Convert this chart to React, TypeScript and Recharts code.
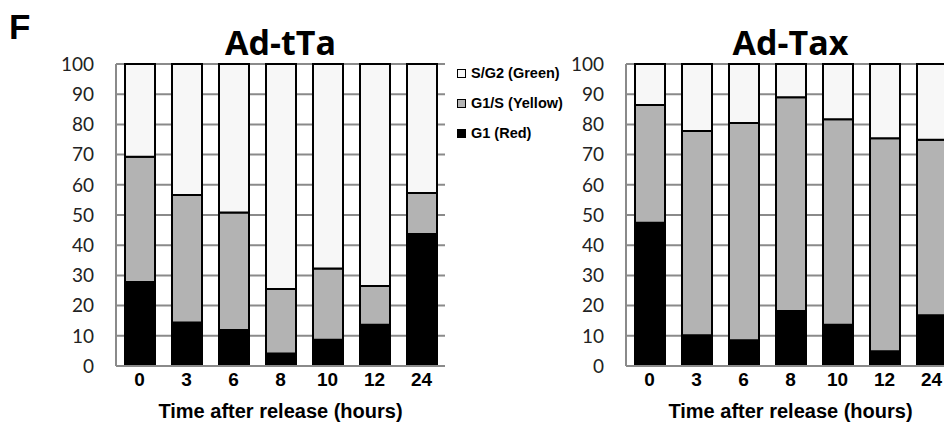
import { Bar, BarChart, CartesianGrid, XAxis, YAxis } from "recharts";

const hours = ["0", "3", "6", "8", "10", "12", "24"];
const yTicks = [0, 10, 20, 30, 40, 50, 60, 70, 80, 90, 100];

// Ad-tTa (%)
const tTaG1 = [27.8, 14.4, 11.9, 4.1, 8.7, 13.7, 43.7];
const tTaG1S = [41.5, 42.2, 38.9, 21.4, 23.6, 12.8, 13.6];
const tTaSG2 = [30.7, 43.4, 49.2, 74.5, 67.7, 73.5, 42.7];

// Ad-Tax (%)
const taxG1 = [47.4, 10.2, 8.5, 18.2, 13.7, 4.9, 16.8];
const taxG1S = [39.0, 67.6, 72.0, 70.8, 68.0, 70.5, 58.1];
const taxSG2 = [13.6, 22.2, 19.5, 11.0, 18.3, 24.6, 25.1];

const series = [
  { key: "g1", name: "G1 (Red)", color: "#000000" },
  { key: "g1s", name: "G1/S (Yellow)", color: "#b3b3b3" },
  { key: "sg2", name: "S/G2 (Green)", color: "#f7f7f7" },
];

const build = (g1: number[], g1s: number[], sg2: number[]) =>
  hours.map((h, i) => ({ h, g1: g1[i], g1s: g1s[i], sg2: sg2[i] }));

type PanelProps = {
  title: string;
  data: { h: string; g1: number; g1s: number; sg2: number }[];
  left: number;
};

const W = 470;
const H = 415;
const M = { top: 56, right: 33, bottom: 5, left: 48 };
const arial = "'Liberation Sans', Arial, sans-serif";

function Panel({ title, data, left }: PanelProps) {
  return (
    <div style={{ position: "absolute", left, top: 0, width: W, height: H }}>
      <div
        style={{
          position: "absolute",
          left: M.left + 60,
          width: W - M.left - 60 - M.right,
          top: 12,
          textAlign: "center",
          fontFamily: "'Open Sans', sans-serif",
          fontWeight: 700,
          fontSize: 34,
          lineHeight: "44px",
          color: "#000",
        }}
      >
        {title}
      </div>
      <BarChart width={W} height={H} data={data} margin={M} barSize={30}>
        <CartesianGrid vertical={false} stroke="#8a8a8a" strokeWidth={2} />
        <XAxis
          dataKey="h"
          height={52}
          tickSize={0}
          tickMargin={7}
          axisLine={{ stroke: "#8a8a8a", strokeWidth: 2 }}
          tick={{ fill: "#000", fontSize: 19, fontWeight: 700, fontFamily: arial }}
          label={{
            value: "Time after release (hours)",
            position: "insideBottom",
            offset: 0,
            fill: "#000",
            fontSize: 20,
            fontWeight: 700,
            fontFamily: arial,
          }}
        />
        <YAxis
          width={60}
          domain={[0, 100]}
          ticks={yTicks}
          interval={0}
          tickSize={0}
          tickMargin={22}
          axisLine={{ stroke: "#8a8a8a", strokeWidth: 2 }}
          tick={{ fill: "#222", fontSize: 19, fontFamily: "Lato, sans-serif" }}
        />
        {series.map((s) => (
          <Bar
            key={s.key}
            dataKey={s.key}
            name={s.name}
            stackId="a"
            fill={s.color}
            stroke="#000"
            strokeWidth={2}
            isAnimationActive={false}
          />
        ))}
      </BarChart>
    </div>
  );
}

function LegendBox() {
  const items = [...series].reverse();
  return (
    <div style={{ position: "absolute", left: 449, top: 50 }}>
      {items.map((s) => (
        <div
          key={s.key}
          style={{
            display: "flex",
            alignItems: "center",
            height: 30,
            fontFamily: arial,
            fontWeight: 700,
            fontSize: 14.5,
            color: "#000",
            whiteSpace: "nowrap",
          }}
        >
          <span
            style={{
              display: "inline-block",
              width: 7,
              height: 7,
              background: s.color,
              border: "1px solid #000",
              marginRight: 5,
            }}
          />
          {s.name}
        </div>
      ))}
    </div>
  );
}

export default function App() {
  return (
    <div style={{ position: "relative", width: 944, height: 415 }}>
      <div style={{ position: "absolute", left: 0, top: 0, width: 944, height: 415, overflow: "hidden", background: "#fff" }}>
        <Panel title="Ad-tTa" data={build(tTaG1, tTaG1S, tTaSG2)} left={0} />
        <Panel title="Ad-Tax" data={build(taxG1, taxG1S, taxSG2)} left={510} />
        <LegendBox />
      </div>
      <div
        style={{
          position: "absolute",
          left: 1,
          top: -1,
          fontFamily: arial,
          fontWeight: 700,
          fontSize: 35,
          lineHeight: "40px",
        }}
      >
        F
      </div>
    </div>
  );
}
